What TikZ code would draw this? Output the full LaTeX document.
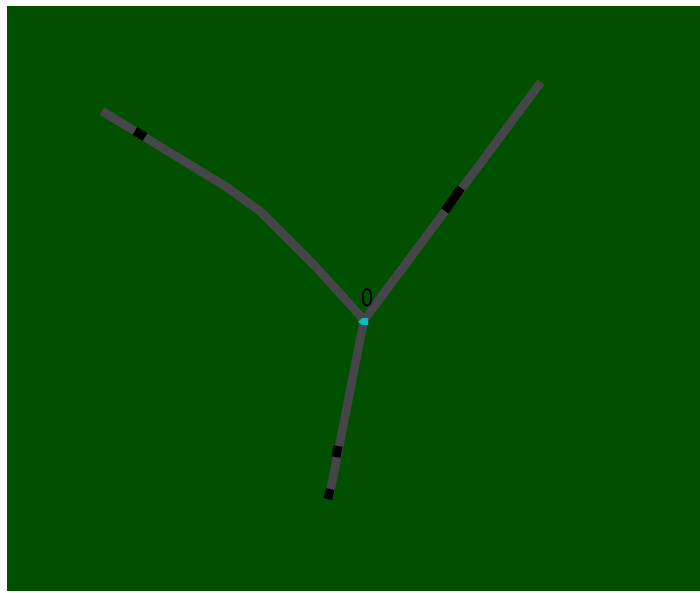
\documentclass[tikz,border=0pt]{standalone}
\usepackage{fontspec}
\newfontfamily\labelfont{DejaVu Sans}

\begin{document}
\begin{tikzpicture}[
  x=1pt, y=-1pt,
  branch/.style={draw=cgray, line width=8.5pt, line join=round},
  tick/.style={draw=black, line width=9pt},
  lbl/.style={font=\labelfont\fontsize{24}{24}\selectfont, text=black, inner sep=0pt, xscale=0.85}
]

\definecolor{cgreen}{RGB}{0,80,0}
\definecolor{cgray}{RGB}{70,70,74}
\definecolor{ccyan}{RGB}{0,190,195}

% background
\useasboundingbox (0,0) rectangle (700,593);
\fill[white] (0,0) rectangle (700,593);
\fill[cgreen] (7,6) rectangle (700,591);

% points
\coordinate (hub) at (364,320);
\coordinate (w1) at (102,111);
\coordinate (w2) at (228,188);
\coordinate (w3) at (261,212);
\coordinate (w4) at (315,266);
\coordinate (ne) at (541,82);
\coordinate (s1) at (329,498);

% Left branch
\draw[branch] (w1) -- (w2) -- (w3) -- (w4) -- (hub);
\draw[tick] (135,131) -- (145,137);

% Right branch
\draw[branch] (hub) -- (ne);
\draw[tick] (445,211) -- (461,188);

% Bottom branch
\draw[branch] (hub) -- (s1);
\draw[tick] (338,446) -- (336,457);
\draw[tick] (330,489) -- (328,499);

% hub
\node[lbl] (zero) at (367,298) {0};
\fill[ccyan] (358,322) -- (362,318) -- (368,318) -- (368,325) -- (362,325) -- cycle;

\end{tikzpicture}
\end{document}
